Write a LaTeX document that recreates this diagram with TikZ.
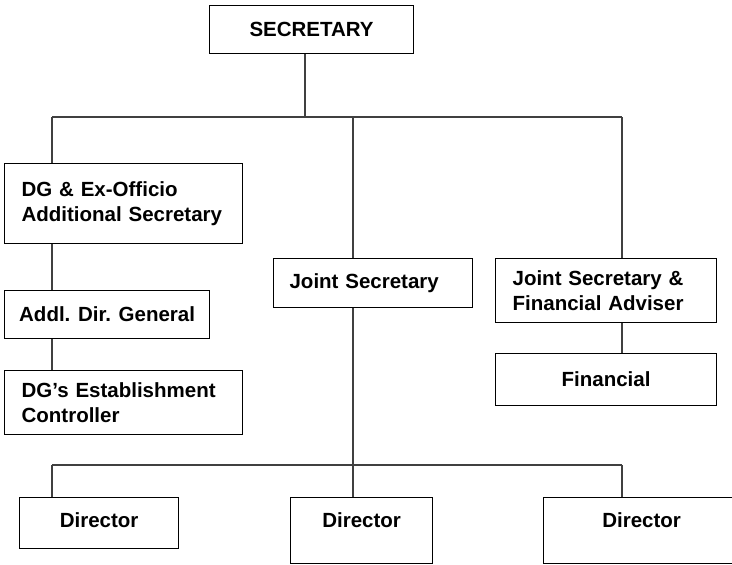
\documentclass[tikz,border=0pt]{standalone}
\usepackage{fontspec}
\setmainfont{Liberation Sans}
\usepackage{tikz}
\usetikzlibrary{positioning}

\tikzset{
  post/.style={draw=black,line width=1.2pt,anchor=north west,inner sep=0pt,
    font=\fontsize{20.5pt}{25pt}\selectfont\bfseries,align=center},
  leftpost/.style={post,align=left,inner xsep=17pt},
  dirpost/.style={post,text height=30.3pt},
  link/.style={draw=black!75,line width=1.1pt}
}

\begin{document}
\begin{tikzpicture}[x=1pt,y=-1pt]
  \path[use as bounding box,clip] (0,0) rectangle (732,565);
  \fill[white] (0,0) rectangle (732,565);

  % top of the tree
  \node[post,minimum width=204pt,minimum height=48pt] (sec) at (209,5) {SECRETARY};

  % left column
  \node[leftpost,text width=204pt,minimum height=80pt] (dg) at (4,163)
    {DG \& Ex-Officio\\Additional Secretary};
  \node[post,minimum width=205pt,minimum height=48pt] (addl) at (4,290)
    {Addl. Dir. General};
  \node[leftpost,text width=204pt,minimum height=64pt] (est) at (4,370)
    {DG’s Establishment\\Controller};

  % middle and right columns
  \node[leftpost,inner xsep=16pt,text width=167pt,minimum height=49pt] (js) at (273,258)
    {Joint Secretary};
  \node[leftpost,text width=187pt,minimum height=64pt] (jsfa) at (495,258)
    {Joint Secretary \&\\Financial Adviser};
  \node[post,minimum width=221pt,minimum height=52pt] (fin) at (495,353) {Financial};

  % directors
  \node[dirpost,minimum width=159pt,text depth=20.7pt] (dir1) at (19,497) {Director};
  \node[dirpost,minimum width=142pt,text depth=35.7pt] (dir2) at (290,497) {Director};
  \node[dirpost,minimum width=196pt,text depth=35.7pt] (dir3) at (543,497) {Director};

  % upper bus
  \coordinate (b0) at (305,117);
  \coordinate (b1) at (52,117);
  \coordinate (b2) at (353,117);
  \coordinate (b3) at (622,117);
  \draw[link] (sec.south -| b0) -- (b0);
  \draw[link] (b1) -- (b3);
  \draw[link] (b1) -- (b1 |- dg.north);
  \draw[link] (b2) -- (b2 |- js.north);
  \draw[link] (b3) -- (b3 |- jsfa.north);
  \draw[link] (dg.south -| b1) -- (addl.north -| b1);
  \draw[link] (addl.south -| b1) -- (est.north -| b1);
  \draw[link] (jsfa.south -| b3) -- (fin.north -| b3);

  % lower bus
  \coordinate (c1) at (52,465);
  \coordinate (c3) at (622,465);
  \draw[link] (js.south -| b2) -- (dir2.north -| b2);
  \draw[link] (c1) -- (c3);
  \draw[link] (c1) -- (c1 |- dir1.north);
  \draw[link] (c3) -- (c3 |- dir3.north);
\end{tikzpicture}
\end{document}
